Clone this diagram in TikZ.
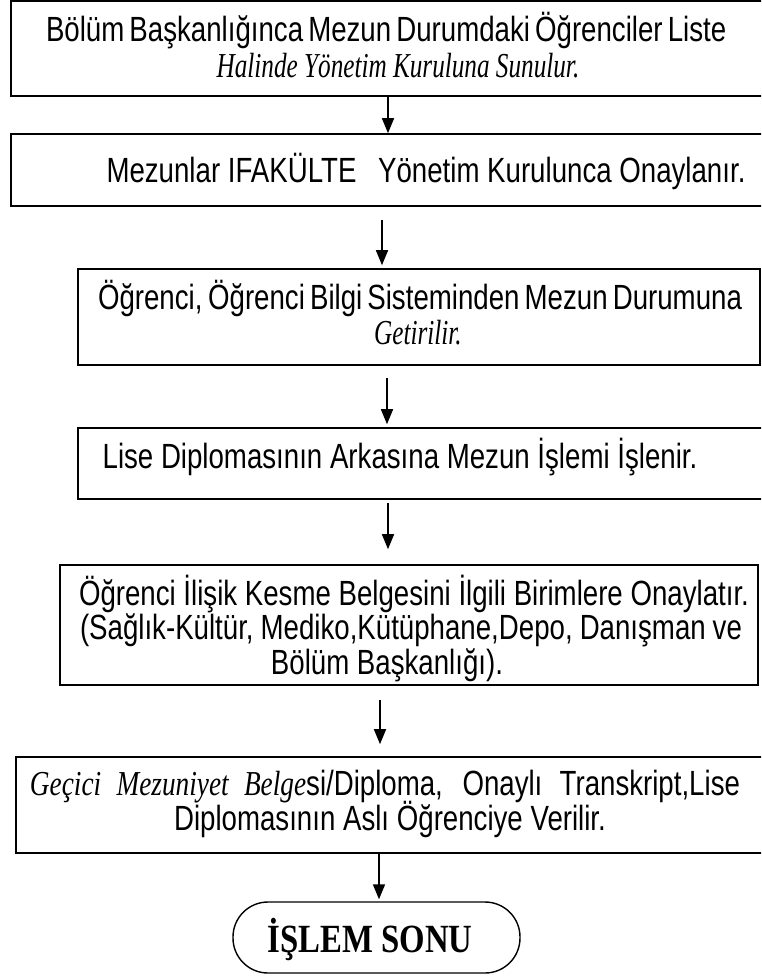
\documentclass[tikz,border=0pt]{standalone}
\usepackage{fontspec}
\setmainfont{Liberation Sans}[FakeStretch=0.79]
\newfontfamily\tmsfont{Liberation Serif}[FakeStretch=0.82]
\newfontfamily\tmsitfont{Liberation Serif}[FakeStretch=0.72]
\newfontfamily\tmsitwide{Liberation Serif}[FakeStretch=0.78]
\usetikzlibrary{arrows.meta}
\begin{document}
\begin{tikzpicture}[x=1pt,y=-1pt,
  box/.style={draw, line width=1.6pt, inner sep=0pt},
  txt/.style={anchor=base, inner sep=0pt, font=\fontsize{35}{37}\selectfont},
  ittxt/.style={txt, font=\fontsize{35}{37}\selectfont\tmsitfont\itshape},
  arr/.style={-{Triangle[length=15pt,width=12pt]}, line width=1.6pt},
  term/.style={draw, line width=1.4pt, rounded corners=35pt, inner sep=0pt}]
\clip (0,0) rectangle (761,978);
\fill[white] (0,0) rectangle (761,978);

% process boxes
\node[box, minimum width=764pt, minimum height=95pt] (b1) at (393,48.5) {};
\node[box, minimum width=764pt, minimum height=72pt] (b2) at (393,170) {};
\node[box, minimum width=682pt, minimum height=96pt] (b3) at (419,317) {};
\node[box, minimum width=697pt, minimum height=71pt] (b4) at (426.5,463.5) {};
\node[box, minimum width=698pt, minimum height=120pt] (b5) at (409,625) {};
\node[box, minimum width=759pt, minimum height=96pt] (b6) at (395.5,805) {};
\node[term, minimum width=287pt, minimum height=71pt] (end) at (376.5,937.5) {};

% box texts
\node[txt] (t1a) at (380,41) {\makebox[668pt][s]{Bölüm Başkanlığınca Mezun Durumdaki Öğrenciler Liste}};
\node[ittxt] (t1b) at (398,77) {Halinde Yönetim Kuruluna Sunulur.};
\node[txt] (t2) at (426,182) {Mezunlar IFAKÜLTE\hspace{14pt} Yönetim Kurulunca Onaylanır.};
\node[txt] (t3a) at (420,309) {\makebox[644pt][s]{Öğrenci, Öğrenci Bilgi Sisteminden Mezun Durumuna}};
\node[ittxt] (t3b) at (418,344) {Getirilir.};
\node[txt] (t4) at (400,468) {Lise Diplomasının Arkasına Mezun İşlemi İşlenir.};
\node[txt] (t5a) at (414,605) {Öğrenci İlişik Kesme Belgesini İlgili Birimlere Onaylatır.};
\node[txt] (t5b) at (411,639) {\makebox[662pt][s]{(Sağlık-Kültür, Mediko,Kütüphane,Depo, Danışman ve}};
\node[txt] (t5c) at (387,674) {Bölüm Başkanlığı).};
\node[txt] (t6a) at (385,795) {\makebox[710pt][s]{{\tmsitwide\itshape Geçici Mezuniyet Belge}si/Diploma, Onaylı Transkript,Lise}};
\node[txt] (t6b) at (390,830) {Diplomasının Aslı Öğrenciye Verilir.};
\node[anchor=base, inner sep=0pt, font=\fontsize{40}{44}\selectfont\tmsfont\bfseries] (tend) at (370,952) {İŞLEM SONU};

% arrow columns
\coordinate (x1) at (388,0);
\coordinate (x2) at (382,0);
\coordinate (x3) at (387,0);
\coordinate (x4) at (388,0);
\coordinate (x5) at (380,0);
\coordinate (x6) at (379,0);

% connectors
\draw[arr] (b1.south -| x1) -- (b2.north -| x1);
\draw[arr, shorten <=13pt, shorten >=3pt] (b2.south -| x2) -- (b3.north -| x2);
\draw[arr, shorten <=12pt, shorten >=3pt] (b3.south -| x3) -- (b4.north -| x3);
\draw[arr, shorten <=3pt, shorten >=15pt] (b4.south -| x4) -- (b5.north -| x4);
\draw[arr, shorten <=14pt, shorten >=12pt] (b5.south -| x5) -- (b6.north -| x5);
\draw[arr, shorten >=2pt] (b6.south -| x6) -- (end.north -| x6);
\end{tikzpicture}
\end{document}
